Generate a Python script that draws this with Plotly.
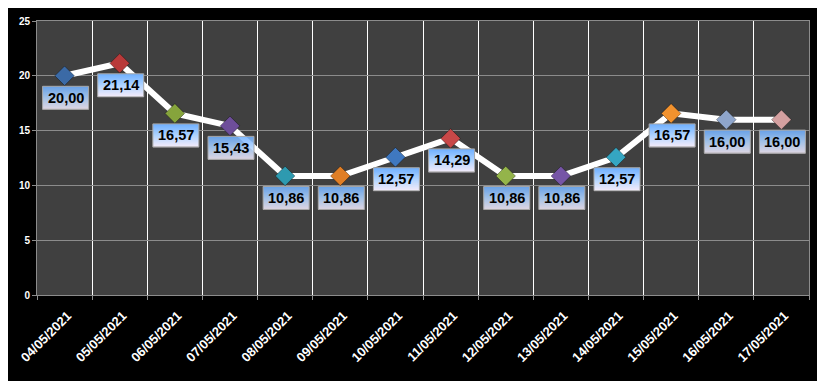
import plotly.graph_objects as go

dates = ["04/05/2021", "05/05/2021", "06/05/2021", "07/05/2021", "08/05/2021",
         "09/05/2021", "10/05/2021", "11/05/2021", "12/05/2021", "13/05/2021",
         "14/05/2021", "15/05/2021", "16/05/2021", "17/05/2021"]
values = [20.00, 21.14, 16.57, 15.43, 10.86, 10.86, 12.57, 14.29, 10.86, 10.86,
          12.57, 16.57, 16.00, 16.00]
point_colors = ["#3b6aa6", "#b83a3a", "#86a43c", "#6e4e9a", "#2e9ab0", "#e07e25",
                "#3f78c0", "#c84848", "#94b44a", "#7655a6", "#35a6c2", "#f2922e",
                "#8fa6cc", "#d4a0a0"]
y_ticks = [0, 5, 10, 15, 20, 25]

labels = [f"{v:.2f}".replace(".", ",") for v in values]

fig = go.Figure()
fig.add_trace(go.Scatter(
    x=dates, y=values, mode="lines+markers",
    line=dict(color="white", width=6),
    marker=dict(symbol="diamond", size=15, color=point_colors,
                line=dict(color="rgba(0,0,0,0.35)", width=1)),
    hoverinfo="skip", showlegend=False,
))

# label boxes with vertical gradient (pixel-sized shapes anchored on each point)
top_c = (112, 176, 255)
mid_c = (176, 212, 255)
bot_c = (242, 234, 250)
n_bands = 23
box_top, box_h = -10.5, 23
for d, v in zip(dates, values):
    for k in range(n_bands):
        f = k / (n_bands - 1)
        if f < 0.5:
            a, b, t = top_c, mid_c, f / 0.5
        else:
            a, b, t = mid_c, bot_c, (f - 0.5) / 0.5
        col = "rgb({},{},{})".format(*[round(a[i] + (b[i] - a[i]) * t) for i in range(3)])
        y0 = box_top - k * box_h / n_bands
        y1 = box_top - (k + 1) * box_h / n_bands
        fig.add_shape(type="rect", xref="x", yref="y", xsizemode="pixel", ysizemode="pixel",
                      xanchor=d, yanchor=v, x0=-22, x1=24, y0=y0, y1=y1 - 0.3,
                      fillcolor=col, line=dict(width=0), layer="above")
    fig.add_shape(type="rect", xref="x", yref="y", xsizemode="pixel", ysizemode="pixel",
                  xanchor=d, yanchor=v, x0=-22, x1=24, y0=box_top, y1=box_top - box_h,
                  fillcolor="rgba(0,0,0,0)", line=dict(color="#a6a6a6", width=1), layer="above")

for d, v, t in zip(dates, values, labels):
    fig.add_annotation(
        x=d, y=v, xref="x", yref="y", text=f"<b>{t}</b>", showarrow=False,
        yshift=-22, xshift=1,
        font=dict(family="Liberation Sans", size=14.5, color="black"),
    )

fig.update_layout(
    width=825, height=381,
    margin=dict(l=29, r=24, t=7, b=94),
    paper_bgcolor="black", plot_bgcolor="#404040",
    font=dict(family="Liberation Sans", color="white"),
)
fig.update_xaxes(
    type="category", tickson="boundaries", ticks="outside", ticklen=4,
    tickcolor="#8c8c8c", showgrid=True, gridcolor="white", gridwidth=1,
    showline=True, linecolor="#8c8c8c", linewidth=1, mirror=True,
    tickangle=-45, ticklabelstandoff=7, ticklabelshift=3,
    tickfont=dict(family="Liberation Sans", size=13, color="white", weight="bold"),
    range=[-0.5, len(dates) - 0.5],
)
fig.update_yaxes(
    range=[0, 25], tickvals=y_ticks, ticks="outside", ticklen=4,
    tickcolor="#8c8c8c", showgrid=True, gridcolor="#8c8c8c", gridwidth=1,
    showline=True, linecolor="#8c8c8c", linewidth=1, mirror=True, zeroline=False,
    tickfont=dict(family="Liberation Sans", size=10, color="white", weight="bold"),
)

fig.write_html("out.html")
